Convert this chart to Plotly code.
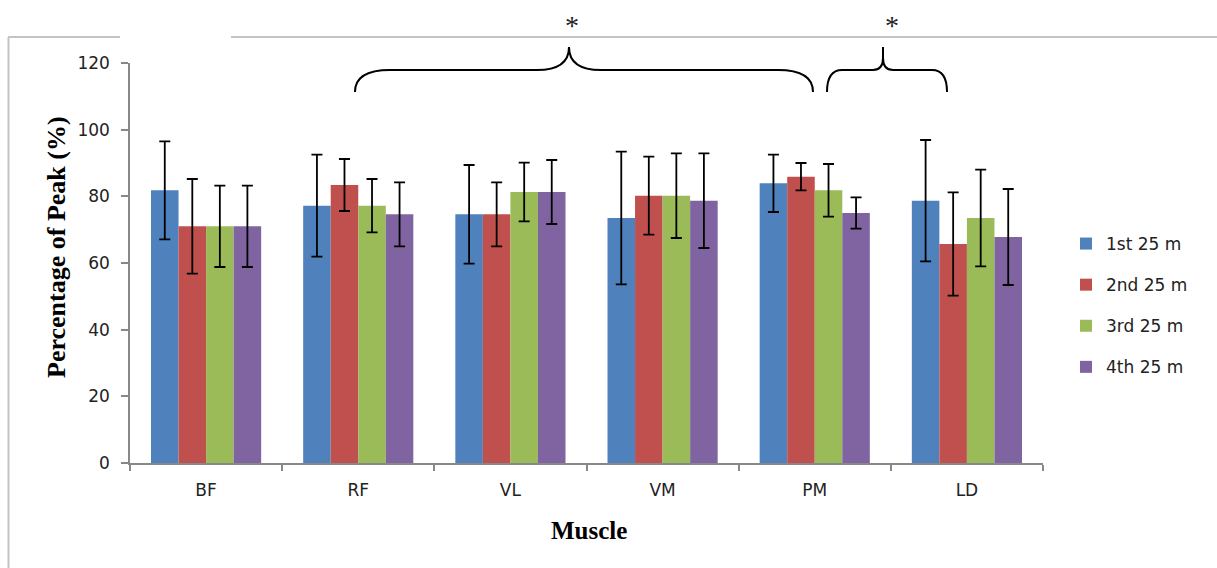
import plotly.graph_objects as go

# Muscle activation as a percentage of peak, per 25 m segment of the swim
muscles = ["BF", "RF", "VL", "VM", "PM", "LD"]
series_names = ["1st 25 m", "2nd 25 m", "3rd 25 m", "4th 25 m"]

seg1_mean = [81.8, 77.2, 74.6, 73.5, 83.9, 78.7]
seg1_sd = [14.7, 15.3, 14.8, 19.9, 8.6, 18.2]
seg2_mean = [71.0, 83.4, 74.6, 80.2, 85.9, 65.7]
seg2_sd = [14.2, 7.8, 9.6, 11.7, 4.1, 15.5]
seg3_mean = [71.0, 77.2, 81.3, 80.2, 81.8, 73.5]
seg3_sd = [12.2, 8.0, 8.8, 12.7, 7.9, 14.5]
seg4_mean = [71.0, 74.6, 81.3, 78.7, 75.0, 67.8]
seg4_sd = [12.2, 9.6, 9.6, 14.2, 4.7, 14.4]

y_ticks = [0, 20, 40, 60, 80, 100, 120]

colors = ["#4F81BD", "#C0504D", "#9BBB59", "#8064A2"]
means = [seg1_mean, seg2_mean, seg3_mean, seg4_mean]
sds = [seg1_sd, seg2_sd, seg3_sd, seg4_sd]

W, H = 1217, 568
L, R, T, B = 130, 1043, 63, 463  # plot area in pixels


def px(x):
    return (x - L) / (R - L)


def py(y):
    return (B - y) / (B - T)


def path(points):
    """Build an SVG path in paper coords from pixel commands."""
    out = []
    for cmd, *coords in points:
        pts = []
        for i in range(0, len(coords), 2):
            pts.append(f"{px(coords[i]):.5f},{py(coords[i + 1]):.5f}")
        out.append(cmd + " ".join(pts))
    return " ".join(out)


fig = go.Figure()
for name, m, s, c in zip(series_names, means, sds, colors):
    fig.add_trace(go.Bar(
        x=muscles, y=m, name=name, legendgroup=name,
        marker=dict(color=c, line=dict(width=0)),
        error_y=dict(type="data", array=s, visible=True,
                     color="black", thickness=1.8, width=5.5),
    ))

shapes = []
frame_col = "#c4c4c4"
# Outer frame (top line broken on the left, left edge)
shapes.append(dict(type="line", xref="paper", yref="paper",
                   x0=px(8), x1=px(120), y0=py(37), y1=py(37),
                   line=dict(color=frame_col, width=2)))
shapes.append(dict(type="line", xref="paper", yref="paper",
                   x0=px(231), x1=px(1217), y0=py(37), y1=py(37),
                   line=dict(color=frame_col, width=2)))
shapes.append(dict(type="line", xref="paper", yref="paper",
                   x0=px(8.5), x1=px(8.5), y0=py(37), y1=py(570),
                   line=dict(color=frame_col, width=2)))

# Significance braces
brace1 = path([
    ("M", 355, 92), ("Q", 355, 70, 390, 70), ("L", 537, 70),
    ("Q", 569, 70, 569, 47), ("Q", 569, 70, 601, 70), ("L", 778, 70),
    ("Q", 813, 70, 813, 92),
])
brace2 = path([
    ("M", 827, 92), ("Q", 827, 70, 842, 70), ("L", 873, 70),
    ("Q", 883, 70, 883, 58), ("L", 883, 47), ("L", 883, 58),
    ("Q", 883, 70, 893, 70), ("L", 932, 70),
    ("Q", 947, 70, 947, 92),
])
for p in (brace1, brace2):
    shapes.append(dict(type="path", xref="paper", yref="paper", path=p,
                       line=dict(color="black", width=2)))

annotations = [
    dict(text="*", x=px(572), y=py(25), xref="paper", yref="paper",
         showarrow=False, xanchor="center", yanchor="middle",
         font=dict(family="Liberation Serif", size=28, color="#222")),
    dict(text="*", x=px(892), y=py(25), xref="paper", yref="paper",
         showarrow=False, xanchor="center", yanchor="middle",
         font=dict(family="Liberation Serif", size=28, color="#222")),
    dict(text="<b>Percentage of Peak (%)</b>", x=px(56), y=py(247),
         xref="paper", yref="paper", showarrow=False, textangle=-90,
         xanchor="center", yanchor="middle",
         font=dict(family="Liberation Serif", size=26, color="black")),
    dict(text="<b>Muscle</b>", x=px(589), y=py(530),
         xref="paper", yref="paper", showarrow=False,
         xanchor="center", yanchor="middle",
         font=dict(family="Liberation Serif", size=25, color="black")),
]

fig.update_layout(
    width=W, height=H,
    margin=dict(l=L, r=W - R, t=T, b=H - B, pad=0),
    paper_bgcolor="white", plot_bgcolor="white",
    barmode="group", bargap=0.276, bargroupgap=0,
    showlegend=True,
    legend=dict(x=px(1066), y=py(226), xanchor="left", yanchor="top",
                traceorder="grouped", tracegroupgap=16,
                font=dict(family="DejaVu Sans", size=17, color="#222"),
                bgcolor="rgba(0,0,0,0)"),
    shapes=shapes,
    annotations=annotations,
    xaxis=dict(
        type="category", range=[-0.5, 5.5],
        showline=True, linecolor="#888888", linewidth=1.5,
        ticks="outside", ticklen=6, tickcolor="#888888", tickwidth=1.5,
        tickson="boundaries", ticklabelstandoff=11,
        showgrid=False, zeroline=False,
        tickfont=dict(family="DejaVu Sans", size=17, color="#222"),
    ),
    yaxis=dict(
        range=[0, 120], tickvals=y_ticks,
        showline=True, linecolor="#888888", linewidth=1.5,
        ticks="outside", ticklen=7, tickcolor="#888888", tickwidth=1.5,
        ticklabelstandoff=8,
        showgrid=False, zeroline=False,
        tickfont=dict(family="DejaVu Sans", size=17, color="#222"),
    ),
)

fig.write_html("out.html")
